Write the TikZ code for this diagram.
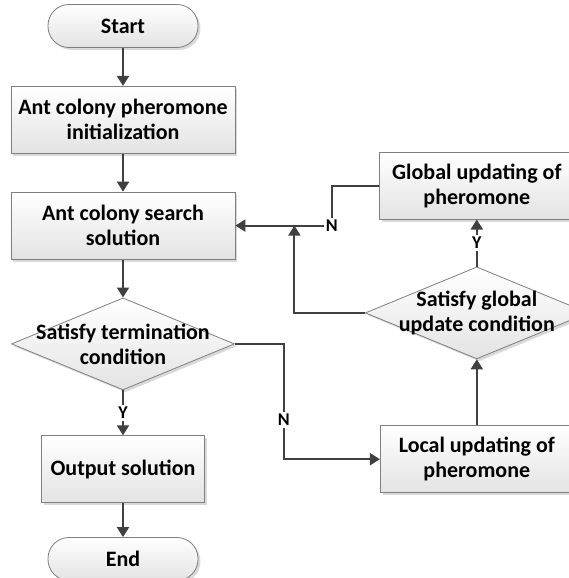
\documentclass[tikz,border=0pt]{standalone}
\usepackage{fontspec}
\setmainfont{Carlito}
\usetikzlibrary{positioning,shapes.geometric,arrows.meta,shadows}
\definecolor{linegray}{HTML}{404040}
\definecolor{boxgray}{HTML}{7F7F7F}
\tikzstyle{base} = [draw=boxgray, top color=white, bottom color=gray!22, text centered,
                    font=\bfseries\fontsize{11}{12.5}\selectfont,
                    drop shadow={shadow xshift=1.2pt, shadow yshift=-1.2pt, fill=gray!50, opacity=0.6}]
\tikzstyle{startstop} = [base, rectangle, rounded corners=10.5pt, minimum width=75pt, minimum height=21.5pt]
\tikzstyle{process} = [base, rectangle, minimum width=112pt, minimum height=33.5pt, align=center]
\tikzstyle{decision} = [base, diamond, minimum width=111.5pt, minimum height=46pt, inner sep=0pt]
\tikzstyle{decisiontext} = [align=center, font=\bfseries\fontsize{11}{12.5}\selectfont]
\tikzstyle{tag} = [fill=white, inner sep=1pt, font=\bfseries\fontsize{9}{10}\selectfont]
\tikzstyle{arrow} = [draw=linegray, line width=1pt, -{Triangle[length=5pt,width=6pt]}]
\begin{document}
\begin{tikzpicture}[node distance=19pt]

            \useasboundingbox (-61.5pt,13pt) rectangle (222.5pt,-276pt);

            % Nodes
            \node (start) [startstop] {Start};
            \node (init) [process, below=of start] {Ant colony pheromone\\initialization};
            \node (search) [process, below=of init] {Ant colony search\\solution};
            \node (term) [decision, below=of search,
                label={[decisiontext]center:Satisfy termination\\condition}] {};
            \node (output) [process, minimum width=81.5pt, below=of term, yshift=-3.5pt] {Output solution};
            \node (end) [startstop, below=of output, yshift=2pt] {End};

            \node (gcond) [decision, right=65pt of term, yshift=15.5pt,
                label={[decisiontext]center:Satisfy global\\update condition}] {};
            \node (global) [process, minimum width=97.5pt, above=23.5pt of gcond] {Global updating of\\pheromone};
            \node (local) [process, minimum width=96.5pt, below=33pt of gcond] {Local updating of\\pheromone};

            % Arrows
            \draw [arrow] (start) -- (init);
            \draw [arrow] (init) -- (search);
            \draw [arrow] (search) -- (term);
            \draw [arrow] (term) -- node[tag] {Y} (output);
            \draw [arrow] (output) -- (end);

            \draw [arrow] (term.east) -- ++(24.5pt,0) |- node[tag, pos=0.33] {N} (local.west);
            \draw [arrow] (local) -- (gcond);
            \draw [arrow] (gcond) -- node[tag] {Y} (global);
            \draw [arrow] (global.west) -- ++(-23.5pt,0) |- node[tag, pos=0.5] {N} (search.east);
            \draw [arrow] (gcond.west) -| ([xshift=29.5pt]search.east);
        \end{tikzpicture}
\end{document}
